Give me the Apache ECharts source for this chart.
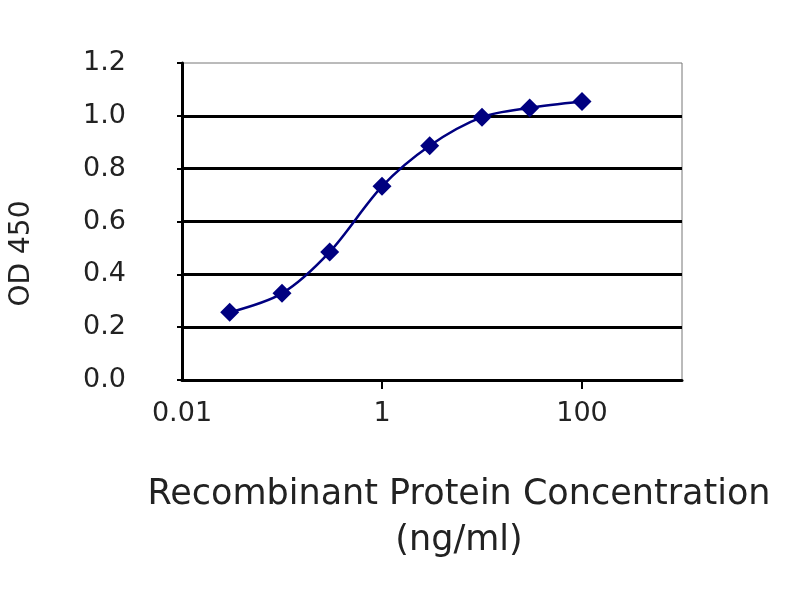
<!DOCTYPE html>
<html>
<head>
<meta charset="utf-8">
<script src="https://cdn.jsdelivr.net/npm/echarts@6/dist/echarts.min.js"></script>
<style>
  html, body { margin: 0; padding: 0; background: #fff; }
  #chart { width: 800px; height: 600px; }
</style>
</head>
<body>
<div id="chart"></div>
<script>
// concentration (ng/ml) and OD 450
var concentrations = [0.03, 0.1, 0.3, 1, 3, 10, 30, 100];
var odValues = [0.256, 0.328, 0.485, 0.733, 0.887, 0.995, 1.03, 1.054];

// only every other decade is labelled / ticked on the x axis
var xLabelValues = [0.01, 1, 100];
var xTickValues = [1, 100];

var xName = 'Recombinant Protein Concentration\n(ng/ml)';
var yName = 'OD 450';

var font = 'DejaVu Sans';
var txt = '#222';

var points = concentrations.map(function (c, i) { return [c, odValues[i]]; });

var chart = echarts.init(document.getElementById('chart'), null, { renderer: 'canvas' });

chart.setOption({
  backgroundColor: '#fff',
  animation: false,
  grid: {
    left: 176, right: 118, top: 63, bottom: 220,
    show: true,
    borderColor: '#777',
    borderWidth: 1,
    backgroundColor: '#fff'
  },
  xAxis: {
    type: 'log',
    logBase: 10,
    min: 0.01,
    max: 1000,
    name: xName,
    nameLocation: 'middle',
    nameGap: 92,
    nameTextStyle: {
      fontFamily: font, fontSize: 35, color: txt, lineHeight: 46,
      padding: [0, 0, 0, 54]
    },
    axisLine: { lineStyle: { color: '#000', width: 3 } },
    axisTick: {
      show: true, inside: true, length: -9,
      customValues: xTickValues,
      lineStyle: { color: '#000', width: 2 }
    },
    axisLabel: {
      customValues: xLabelValues,
      margin: 20,
      fontFamily: font, fontSize: 27, color: txt,
      formatter: function (v) { return String(v); }
    },
    splitLine: { show: false }
  },
  yAxis: {
    type: 'value',
    min: 0,
    max: 1.2,
    interval: 0.2,
    name: yName,
    nameLocation: 'middle',
    nameGap: 146,
    nameTextStyle: {
      fontFamily: font, fontSize: 28, color: txt,
      padding: [0, 64, 0, 0]
    },
    axisLine: { show: true, lineStyle: { color: '#000', width: 3 } },
    axisTick: { show: true, length: 5, lineStyle: { color: '#000', width: 2 } },
    axisLabel: {
      margin: 56,
      fontFamily: font, fontSize: 27, color: txt,
      formatter: function (v) { return v.toFixed(1); }
    },
    splitLine: { show: true, showMaxLine: false, lineStyle: { color: '#000', width: 3 } }
  },
  series: [{
    type: 'line',
    data: points,
    smooth: 0.3,
    symbol: 'diamond',
    symbolSize: 19,
    lineStyle: { color: '#000080', width: 2.5 },
    itemStyle: { color: '#000080' }
  }]
});
</script>
</body>
</html>
